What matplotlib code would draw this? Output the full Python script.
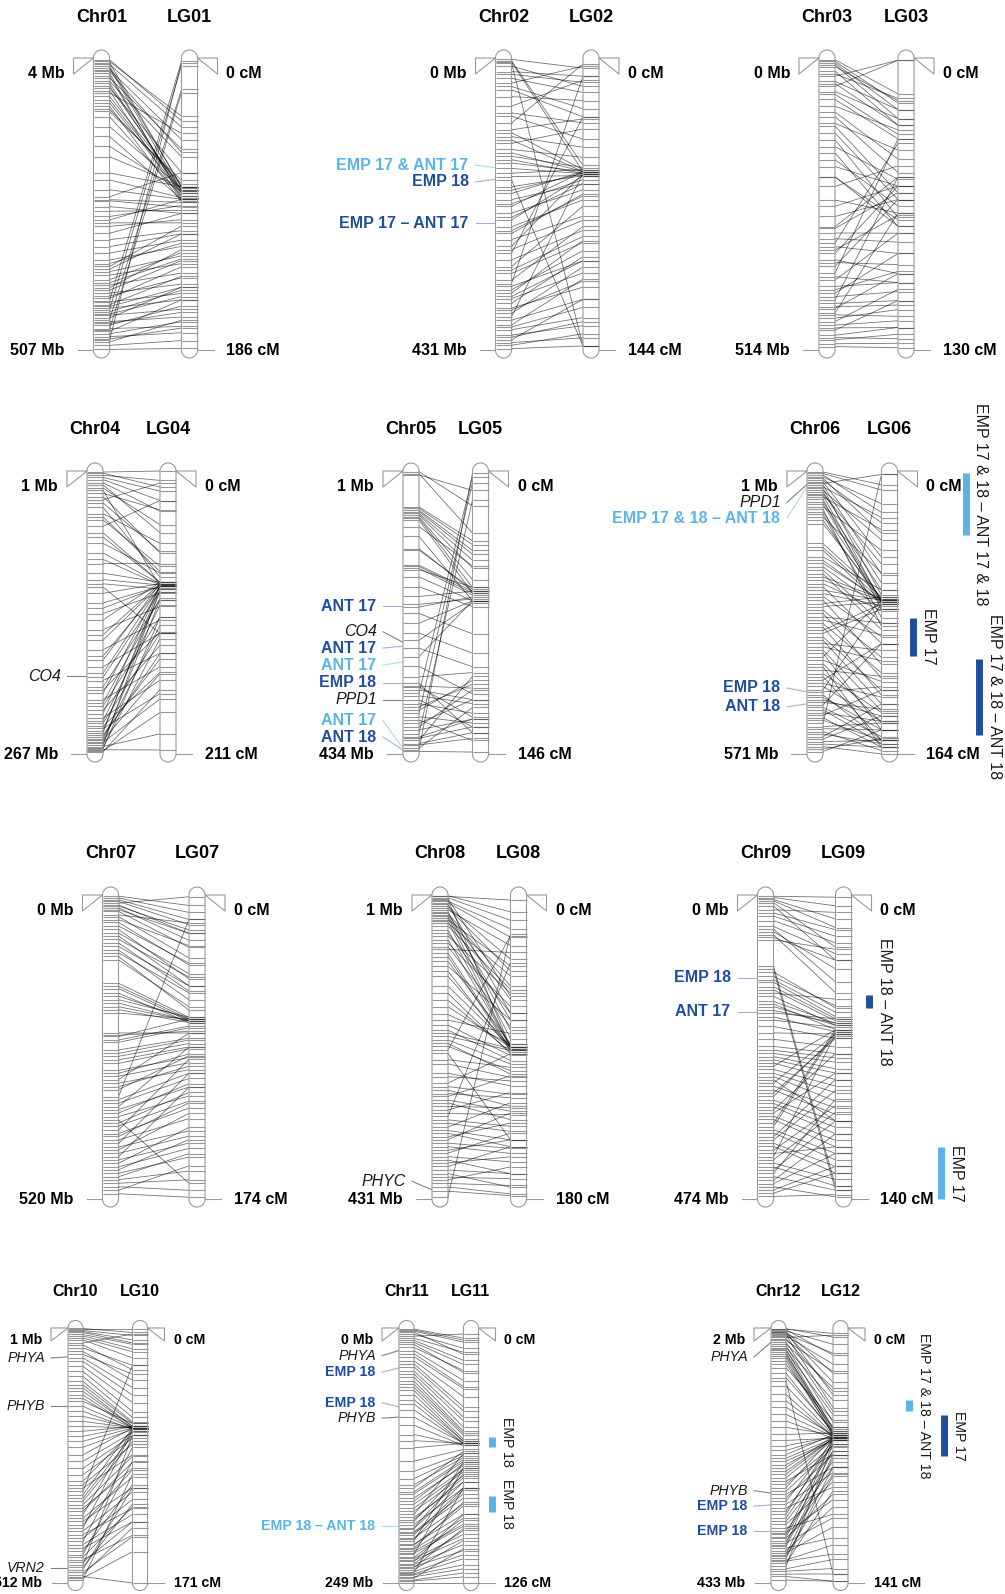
import numpy as np
import matplotlib.pyplot as plt
from matplotlib.collections import LineCollection

plt.rcParams['font.family'] = ['Liberation Sans', 'DejaVu Sans']

W, H = 1005, 1594
LIGHT = '#5ab4e6'
DARK = '#1f4e9f'
GREY = '#9a9a9a'

chr_names = ['Chr01', 'Chr02', 'Chr03', 'Chr04', 'Chr05', 'Chr06',
             'Chr07', 'Chr08', 'Chr09', 'Chr10', 'Chr11', 'Chr12']
lg_names = ['LG01', 'LG02', 'LG03', 'LG04', 'LG05', 'LG06',
            'LG07', 'LG08', 'LG09', 'LG10', 'LG11', 'LG12']
start_mb = [4, 0, 0, 1, 1, 1, 0, 1, 0, 1, 0, 2]
end_mb = [507, 431, 514, 267, 434, 571, 520, 431, 474, 512, 249, 433]
lg_cm = [186, 144, 130, 211, 146, 164, 174, 180, 140, 171, 126, 141]

# anchored markers: physical position (Mb) and genetic position (cM)
chr01_mb = [10, 15, 18, 24, 30, 38, 44, 47, 56, 64, 70, 76, 87, 96, 105, 122, 139, 156, 174, 202,
            214, 231, 243, 248, 260, 277, 283, 294, 306, 317, 329, 340, 352, 363, 372, 378, 386, 395,
            404, 409, 418, 424, 429, 435, 441, 447, 452, 458, 464, 470, 475, 484, 493, 506,
            422, 438, 455, 490, 472,
            7, 12, 21, 27, 35, 52, 60, 81, 92, 250, 268, 288, 358, 368, 391, 400, 414, 432, 445,
            461, 479, 488, 499]
chr01_cm = [37, 44, 82, 52, 90, 58, 63, 86, 73, 48, 82, 84, 92, 78, 88, 83, 90, 85, 82, 82,
            89, 90, 73, 92, 99, 94, 90, 103, 99, 110, 112, 116, 120, 107, 126, 131, 124, 137,
            129, 144, 133, 150, 139, 154, 148, 160, 146, 165, 158, 171, 154, 175, 167, 185,
            2, 5, 20, 3, 22,
            40, 82, 85, 60, 88, 84, 91, 86, 80, 95, 97, 105, 118, 112, 128, 122, 140, 146, 152,
            162, 168, 172, 180]

chr02_mb = [2, 4, 6, 7, 12, 20, 30, 37, 47, 57, 71, 81, 86, 96, 106, 116, 121, 126, 135, 145,
            155, 163, 170, 180, 190, 200, 209, 219, 229, 239, 249, 259, 268, 278, 288, 298, 308,
            318, 328, 333, 337, 347, 355, 362, 369, 377, 382, 387, 394, 401, 409, 416, 424, 429,
            24, 42, 110, 140, 150, 175, 195, 215, 235, 255, 283, 313, 342, 352, 372, 397, 412, 420]
chr02_cm = [5, 53, 56, 142, 14, 9, 17, 4, 29, 21, 11, 32, 40, 3, 30, 44, 56, 35, 49, 54,
            56, 57, 55, 142, 58, 56, 62, 56, 65, 58, 70, 67, 78, 57, 29, 85, 73,
            91, 83, 9, 100, 90, 106, 98, 113, 103, 57, 119, 109, 128, 132, 119, 136, 142,
            12, 25, 55, 56, 57, 58, 57, 60, 62, 68, 80, 88, 95, 100, 110, 123, 130, 138]

chr03_mb = [3, 9, 15, 23, 32, 41, 50, 59, 73, 85, 103, 115, 132, 144, 156, 167, 179, 191, 209, 226,
            250, 261, 279, 297, 308, 326, 332, 344, 355, 367, 379, 391, 402, 414, 426, 432, 441,
            449, 458, 464, 470, 479, 488, 496, 508,
            6, 12, 28, 45, 64, 95, 120, 210, 300, 318, 338, 360, 385, 408, 420, 438, 452, 475, 492, 503]
chr03_cm = [16, 23, 19, 30, 1, 23, 1, 27, 36, 32, 51, 41, 63, 71, 54, 75, 66, 57, 75, 48,
            69, 57, 63, 53, 78, 38, 87, 57, 96, 63, 36, 78, 100, 87, 53, 108, 96,
            69, 112, 103, 117, 108, 120, 123, 129,
            20, 27, 18, 30, 34, 45, 60, 72, 60, 82, 70, 92, 100, 95, 104, 110, 115, 120, 125, 127]

chr04_mb = [2, 5, 9, 14, 19, 22, 25, 28, 35, 41, 47, 53, 59, 69, 78, 88, 97, 103, 110, 116,
            125, 135, 141, 150, 160, 169, 179, 185, 191, 198, 204, 210, 216, 222, 229, 233, 238,
            243, 247, 251, 254, 257, 260, 262, 263, 265,
            3, 7, 12, 17, 31, 44, 63, 84, 107, 130, 155, 175, 195, 207, 219, 226, 236, 241, 245,
            249, 253, 256, 259, 261, 264]
chr04_cm = [0, 7, 22, 46, 86, 29, 61, 9, 79, 54, 71, 22, 83, 76, 84, 69, 83, 85, 121, 84,
            86, 91, 83, 101, 85, 111, 84, 121, 86, 136, 96, 86, 146, 109, 85, 156, 121,
            166, 86, 136, 151, 96, 196, 109, 208, 163,
            12, 15, 30, 40, 60, 75, 83, 85, 88, 86, 84, 87, 90, 120, 95, 130, 100, 150, 90,
            140, 115, 170, 88, 125, 180]

chr05_mb = [2, 5, 7, 56, 61, 66, 71, 76, 86, 101, 122, 147, 152, 163, 178, 193, 209, 219, 234, 249,
            260, 272, 285, 300, 316, 326, 331, 336, 341, 351, 362, 372, 382, 392, 403, 408, 413,
            418, 425, 428,
            58, 63, 68, 73, 120, 145, 150, 205, 330, 345, 357, 367, 377, 387, 397, 410, 420, 430]
chr05_cm = [18, 32, 10, 36, 41, 46, 56, 63, 49, 67, 61, 63, 60, 67, 70, 62, 65, 84, 67, 94,
            68, 101, 67, 115, 104, 135, 127, 118, 3, 132, 110, 6, 139, 113, 15, 128, 106,
            135, 122, 1,
            38, 43, 50, 60, 62, 62, 64, 66, 112, 120, 125, 108, 130, 118, 128, 132, 138, 145]

chr06_mb = [6, 13, 20, 26, 33, 40, 47, 53, 63, 73, 83, 94, 107, 147, 161, 174, 187, 201, 214, 228,
            241, 254, 268, 281, 295, 308, 322, 335, 348, 362, 375, 389, 402, 415, 429, 442, 452,
            462, 472, 482, 493, 503, 509, 516, 526, 536, 546, 556, 566,
            3, 9, 16, 23, 30, 36, 43, 50, 58, 68, 78, 88, 100, 155, 181, 194, 208, 221, 234, 248,
            261, 274, 288, 301, 315, 328, 342, 355, 368, 382, 395, 409, 422, 435, 446, 457, 467,
            477, 488, 498, 520, 531, 541, 551, 561]
chr06_cm = [11, 19, 30, 2, 27, 40, 54, 34, 69, 46, 75, 59, 74, 73, 77, 69, 75, 88, 74, 81,
            75, 96, 73, 108, 88, 117, 77, 127, 104, 139, 75, 146, 119, 156, 131, 77, 156,
            142, 100, 158, 127, 156, 2, 146, 162, 135, 156, 164, 150,
            8, 24, 36, 50, 60, 72, 65, 76, 80, 75, 90, 85, 76, 75, 76, 80, 92, 75, 100, 78,
            112, 76, 120, 95, 130, 80, 135, 110, 150, 122, 160, 140, 100, 145, 125, 150, 138,
            154, 145, 160, 150, 158, 142, 160, 155]

chr07_mb = [2, 8, 14, 19, 25, 34, 42, 53, 65, 76, 88, 99, 111, 151, 156, 168, 179, 191, 202, 236,
            242, 248, 271, 282, 305, 316, 328, 345, 350, 362, 373, 385, 390, 402, 413, 425, 436,
            448, 459, 470, 482, 493, 499, 505, 511,
            5, 11, 17, 22, 28, 37, 47, 59, 70, 82, 94, 105, 160, 173, 185, 196, 240, 252, 265,
            276, 288, 300, 310, 322, 333, 356, 367, 379, 395, 408, 419, 431, 442, 453, 465, 476, 487]
chr07_cm = [6, 14, 1, 20, 22, 16, 29, 39, 45, 47, 52, 56, 64, 70, 71, 73, 70, 72, 71, 79,
            71, 75, 83, 87, 91, 79, 98, 14, 102, 87, 108, 165, 113, 94, 119, 102, 125,
            110, 133, 140, 148, 163, 169, 155, 173,
            10, 17, 22, 26, 30, 36, 40, 48, 52, 55, 60, 66, 72, 71, 72, 73, 78, 76, 82,
            85, 88, 93, 96, 100, 92, 105, 110, 115, 118, 122, 128, 135, 138, 142, 145, 150, 158]

chr08_mb = [3, 5, 8, 12, 17, 22, 27, 31, 36, 41, 50, 59, 69, 78, 88, 102, 116, 140, 159, 178,
            192, 201, 211, 220, 225, 234, 253, 267, 277, 286, 295, 305, 314, 319, 329, 338, 347,
            357, 366, 376, 385, 395, 404, 414, 428,
            2, 6, 10, 14, 19, 25, 29, 33, 38, 45, 55, 64, 74, 83, 95, 109, 130, 150, 170, 185,
            196, 206, 215, 240, 258, 272, 282, 291, 300, 310, 324, 334, 343, 352, 362, 371, 380,
            390, 400, 409, 420]
chr08_cm = [3, 15, 90, 25, 38, 30, 54, 74, 42, 48, 90, 58, 66, 34, 92, 74, 90, 94, 90, 82,
            98, 92, 106, 24, 145, 102, 113, 94, 125, 107, 133, 117, 40, 137, 123, 149, 129,
            153, 141, 165, 149, 173, 161, 177, 23,
            10, 60, 20, 70, 45, 80, 62, 85, 90, 56, 70, 90, 78, 91, 88, 92, 90, 93, 88, 95,
            91, 100, 104, 108, 110, 118, 120, 128, 126, 130, 140, 145, 135, 150, 145, 158, 155,
            165, 168, 172, 178]

chr09_mb = [2, 7, 12, 23, 33, 49, 57, 62, 70, 111, 116, 127, 132, 143, 153, 166, 174, 184, 195, 215,
            236, 247, 257, 267, 278, 288, 293, 304, 314, 325, 335, 340, 345, 356, 366, 377, 387,
            398, 403, 408, 418, 429, 434, 439, 450, 455, 465,
            4, 9, 17, 28, 40, 53, 66, 120, 136, 148, 158, 170, 180, 190, 205, 225, 242, 252, 262,
            272, 283, 298, 309, 320, 330, 350, 361, 371, 382, 392, 413, 424, 445, 460, 470]
chr09_cm = [1, 11, 24, 8, 19, 27, 34, 45, 25, 134, 136, 51, 54, 57, 48, 59, 60, 57, 61, 64,
            73, 77, 82, 62, 91, 104, 64, 101, 65, 107, 73, 82, 113, 62, 119, 85, 125,
            97, 116, 64, 131, 104, 94, 136, 119, 139, 128,
            5, 15, 30, 16, 22, 40, 30, 52, 56, 58, 60, 62, 59, 63, 66, 70, 75, 80, 85,
            88, 95, 98, 66, 104, 110, 116, 63, 122, 90, 128, 100, 134, 110, 125, 138]

chr10_mb = [4, 8, 14, 21, 31, 41, 54, 68, 88, 108, 121, 135, 148, 168, 188, 208, 228, 255, 282, 308,
            322, 328, 335, 348, 362, 375, 388, 402, 415, 428, 442, 455, 465, 475, 485, 495, 499, 505,
            2, 6, 10, 17, 25, 35, 48, 61, 78, 98, 115, 128, 142, 158, 178, 198, 218, 240, 268,
            295, 315, 342, 355, 368, 382, 395, 408, 422, 435, 448, 460, 470, 480, 490, 502]
chr10_cm = [1, 8, 11, 16, 4, 25, 31, 45, 56, 63, 66, 67, 64, 68, 67, 66, 67, 67, 72, 69,
            85, 25, 67, 76, 94, 68, 107, 69, 121, 80, 130, 89, 139, 72, 107, 134, 171, 98,
            3, 5, 10, 14, 20, 28, 35, 40, 50, 60, 64, 66, 67, 67, 67, 67, 66, 68, 70,
            74, 78, 72, 86, 90, 100, 95, 110, 115, 125, 105, 120, 130, 118, 140, 150]

chr11_mb = [1, 3, 4, 8, 12, 19, 22, 25, 32, 35, 38, 45, 48, 52, 58, 61, 65, 74, 87, 104,
            117, 140, 153, 156, 162, 169, 176, 182, 185, 189, 192, 195, 199, 202, 205, 208, 211,
            215, 218, 221, 225, 228, 231, 234, 238, 239, 241, 244, 246, 249,
            2, 6, 10, 14, 16, 28, 42, 55, 70, 80, 95, 110, 130, 147, 160, 166, 172, 179, 187,
            196, 200, 206, 212, 216, 220, 224, 227, 230, 233, 236, 240, 243, 247]
chr11_cm = [5, 7, 13, 3, 16, 21, 26, 29, 34, 39, 41, 46, 49, 51, 53, 55, 56, 57, 57, 58,
            57, 62, 64, 61, 66, 67, 71, 62, 76, 69, 79, 72, 82, 79, 87, 66, 92,
            86, 97, 69, 102, 92, 107, 99, 112, 79, 117, 109, 121, 126,
            6, 10, 12, 18, 22, 30, 44, 52, 56, 57, 58, 57, 60, 63, 65, 68, 70, 73, 74,
            76, 84, 80, 88, 94, 98, 95, 104, 100, 110, 105, 114, 119, 123]

chr12_mb = [4, 7, 9, 12, 15, 18, 23, 29, 35, 40, 46, 52, 57, 69, 86, 91, 114, 136, 159, 182,
            201, 216, 227, 238, 249, 261, 272, 278, 283, 295, 306, 317, 323, 329, 340, 345, 351,
            357, 362, 368, 374, 379, 385, 391, 396, 405, 413, 422,
            3, 5, 8, 11, 14, 20, 26, 32, 38, 43, 49, 63, 78, 100, 125, 148, 170, 192, 209,
            222, 233, 244, 255, 266, 289, 300, 312, 334, 348, 355, 365, 371, 382, 388, 394, 400,
            409, 418, 428]
chr12_cm = [3, 9, 37, 14, 20, 4, 24, 33, 40, 48, 55, 59, 59, 51, 57, 136, 60, 59, 61, 58,
            60, 59, 62, 60, 61, 70, 60, 66, 77, 62, 88, 61, 68, 74, 103, 77, 62,
            92, 81, 62, 116, 99, 70, 77, 125, 64, 133, 140,
            5, 15, 25, 30, 44, 35, 46, 52, 56, 58, 57, 55, 58, 59, 60, 60, 59, 61, 60,
            61, 62, 61, 62, 65, 70, 80, 64, 85, 95, 68, 105, 72, 110, 82, 120, 90,
            128, 136, 140]

marker_mb = [chr01_mb, chr02_mb, chr03_mb, chr04_mb, chr05_mb, chr06_mb,
             chr07_mb, chr08_mb, chr09_mb, chr10_mb, chr11_mb, chr12_mb]
marker_cm = [chr01_cm, chr02_cm, chr03_cm, chr04_cm, chr05_cm, chr06_cm,
             chr07_cm, chr08_cm, chr09_cm, chr10_cm, chr11_cm, chr12_cm]
for a, b in zip(marker_mb, marker_cm):
    assert len(a) == len(b)

# labels next to the physical map: (text, kind, label at Mb, points to Mb)
chr_notes = {
    1: [('EMP 17 & ANT 17', 'light', 158, 162), ('EMP 18', 'dark', 183, 179),
        ('EMP 17 – ANT 17', 'dark', 244, 244)],
    3: [('CO4', 'gene', 194, 194)],
    4: [('ANT 17', 'dark', 208, 208), ('CO4', 'gene', 247, 263), ('ANT 17', 'dark', 272, 269),
        ('ANT 17', 'light', 298, 293), ('EMP 18', 'dark', 325, 325), ('PPD1', 'gene', 351, 351),
        ('ANT 17', 'light', 383, 425), ('ANT 18', 'dark', 408, 428)],
    5: [('PPD1', 'gene', 64, 28), ('EMP 17 & 18 – ANT 18', 'light', 96, 33),
        ('EMP 18', 'dark', 438, 446), ('ANT 18', 'dark', 476, 470)],
    7: [('PHYC', 'gene', 406, 418)],
    8: [('EMP 18', 'dark', 129, 129), ('ANT 17', 'dark', 182, 182)],
    9: [('PHYA', 'gene', 61, 59), ('PHYB', 'gene', 157, 157), ('VRN2', 'gene', 482, 482)],
    10: [('PHYA', 'gene', 27, 22), ('EMP 18', 'dark', 43, 39), ('EMP 18', 'dark', 73, 77),
         ('PHYB', 'gene', 88, 87), ('EMP 18 – ANT 18', 'light', 193, 193)],
    11: [('PHYA', 'gene', 51, 26), ('PHYB', 'gene', 277, 281), ('EMP 18', 'dark', 303, 301),
         ('EMP 18', 'dark', 345, 345)],
}

# QTL intervals beside the linkage groups: (text, kind, from cM, to cM, bar x)
lg_qtl = {
    5: [('EMP 17 & 18 – ANT 17 & 18', 'light', 1, 37, 966), ('EMP 17', 'dark', 85, 107, 913),
        ('EMP 17 & 18 – ANT 18', 'dark', 109, 153, 979)],
    8: [('EMP 18 – ANT 18', 'dark', 46, 52, 869), ('EMP 17', 'light', 116, 140, 941)],
    10: [('EMP 18', 'light', 54, 59, 492), ('EMP 18', 'light', 83, 91, 492)],
    11: [('EMP 17 & 18 – ANT 18', 'light', 40, 46, 909), ('EMP 17', 'dark', 48, 71, 944)],
}

text_col = {'light': LIGHT, 'dark': DARK, 'gene': '#1a1a1a'}
link_col = {'light': '#a9d6f2', 'dark': '#9fb3d9', 'gene': '#808080'}

# page layout (pixels); the bottom row is drawn slightly smaller
row_top = [58, 471, 895, 1328]
row_bot = [350, 754, 1199, 1583]
title_y = [17, 429, 853, 1292]
row_fs = [11.5, 11.5, 11.5, 10.2]
row_title_fs = [13, 13, 13, 11.5]
row_hw = [8, 8, 8, 7.5]
row_flag_w = [20, 20, 20, 17]
row_flag_h = [16, 16, 16, 13]
chr_x = [101.5, 503.5, 827, 95, 411, 815, 110.5, 440, 765.5, 75.5, 406.5, 778.5]
lg_x = [189.5, 591, 906, 168, 480.5, 889.5, 197, 518.5, 843.5, 140, 471, 840.5]

fig = plt.figure(figsize=(W / 100, H / 100), dpi=100)
ax = fig.add_axes([0, 0, 1, 1])
ax.set_xlim(0, W)
ax.set_ylim(H, 0)
ax.axis('off')


def capsule(x, top, bot, hw):
    t = np.linspace(0, np.pi, 40)
    xs = np.r_[x + hw * np.cos(t), x - hw * np.cos(t)]
    ys = np.r_[top - hw * np.sin(t), bot + hw * np.sin(t)]
    ax.fill(xs, ys, facecolor='white', edgecolor='none', zorder=2)
    ax.fill(xs, ys, facecolor='none', edgecolor=GREY, lw=0.8, zorder=5)


for i in range(12):
    r = i // 3
    top, bot = row_top[r], row_bot[r]
    hw, fs = row_hw[r], row_fs[r]
    fw, fh = row_flag_w[r], row_flag_h[r]
    cx, lx = chr_x[i], lg_x[i]
    span = bot - top
    mb_len = end_mb[i] - start_mb[i]

    y_chr = top + (np.array(marker_mb[i], float) - start_mb[i]) / mb_len * span
    y_lg = top + np.array(marker_cm[i], float) / lg_cm[i] * span

    capsule(cx, top, bot, hw)
    capsule(lx, top, bot, hw)

    ax.hlines(y_chr, cx - hw, cx + hw, color='#303030', lw=0.8, alpha=0.5, zorder=3)
    ax.hlines(y_lg, lx - hw, lx + hw, color='#303030', lw=0.8, alpha=0.5, zorder=3)

    segs = [[(cx + hw, a), (lx - hw, b)] for a, b in zip(y_chr, y_lg)]
    ax.add_collection(LineCollection(segs, colors='black', lw=0.6, alpha=0.55, zorder=4))

    # titles
    ax.text(cx, title_y[r], chr_names[i], ha='center', va='center',
            fontsize=row_title_fs[r], fontweight='bold')
    ax.text(lx, title_y[r], lg_names[i], ha='center', va='center',
            fontsize=row_title_fs[r], fontweight='bold')

    # start flags and end lines
    bl = cx - hw
    wl = bl - fw
    ax.plot([bl, wl, wl, bl], [top, top, top + fh, top], color=GREY, lw=0.8, zorder=1)
    ax.plot([bl - 16, cx], [bot, bot], color=GREY, lw=0.8, zorder=1)
    ax.text(wl - 9, top + fh - 1, f'{start_mb[i]} Mb', ha='right', va='center',
            fontsize=fs, fontweight='bold')
    ax.text(wl - 9, bot, f'{end_mb[i]} Mb', ha='right', va='center',
            fontsize=fs, fontweight='bold')

    br = lx + hw
    wr = br + fw
    ax.plot([br, wr, wr, br], [top, top, top + fh, top], color=GREY, lw=0.8, zorder=1)
    ax.plot([lx, br + 16], [bot, bot], color=GREY, lw=0.8, zorder=1)
    ax.text(wr + 9, top + fh - 1, '0 cM', ha='left', va='center', fontsize=fs, fontweight='bold')
    ax.text(wr + 9, bot, f'{lg_cm[i]} cM', ha='left', va='center', fontsize=fs, fontweight='bold')

    # QTL and gene labels on the physical map
    for text, kind, at, to in chr_notes.get(i, []):
        ty = top + (at - start_mb[i]) / mb_len * span
        my = top + (to - start_mb[i]) / mb_len * span
        ax.plot([wl, bl], [ty, my], color=link_col[kind], lw=0.8, zorder=1)
        if kind == 'gene':
            ax.text(wl - 6, ty, text, ha='right', va='center', fontsize=fs,
                    style='italic', color=text_col[kind])
        else:
            ax.text(wl - 7, ty, text, ha='right', va='center', fontsize=fs,
                    fontweight='bold', color=text_col[kind])

    # QTL intervals on the linkage map
    for text, kind, lo, hi, bx in lg_qtl.get(i, []):
        y0 = top + lo / lg_cm[i] * span
        y1 = top + hi / lg_cm[i] * span
        ax.plot([bx, bx], [y0, y1], color=text_col[kind], lw=5, solid_capstyle='butt', zorder=3)
        ax.text(bx + 15, (y0 + y1) / 2, text, rotation=270, ha='center', va='center',
                fontsize=fs, color='#1a1a1a')

fig.savefig('out.png', dpi=100, facecolor='white')
